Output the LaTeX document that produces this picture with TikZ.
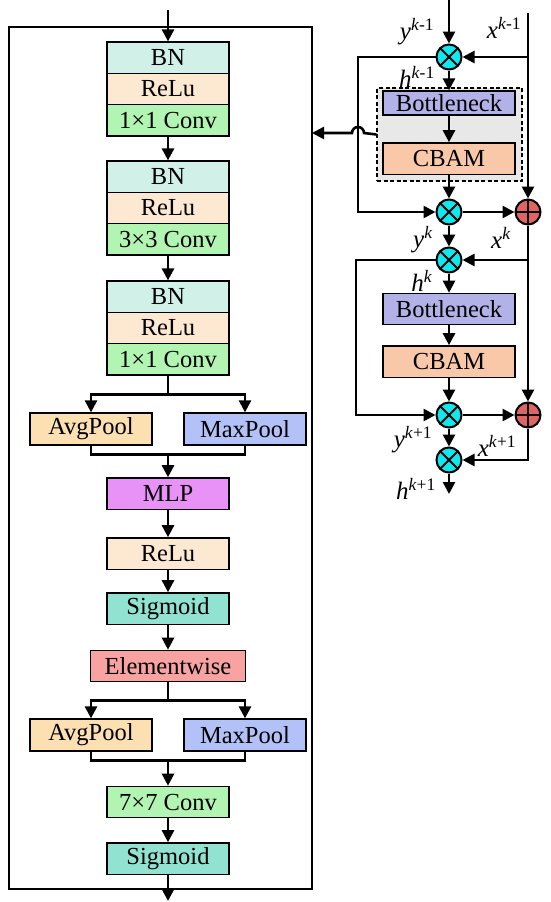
\documentclass[tikz,border=0pt]{standalone}
\usepackage{fontspec}
\setmainfont{Liberation Serif}
\usepackage{tikz}
\usetikzlibrary{positioning, arrows.meta, calc}

\definecolor{cBN}{HTML}{D0F0E8}
\definecolor{cRelu}{HTML}{FDE9D2}
\definecolor{cConv}{HTML}{B2F5B2}
\definecolor{cAvg}{HTML}{FCE0B2}
\definecolor{cMax}{HTML}{B2C2F8}
\definecolor{cMLP}{HTML}{E892F8}
\definecolor{cSig}{HTML}{92E2D2}
\definecolor{cElem}{HTML}{F8A2A2}
\definecolor{cBot}{HTML}{B2B2E8}
\definecolor{cCBAM}{HTML}{F8C8A8}
\definecolor{cMul}{HTML}{10E8F0}
\definecolor{cAdd}{HTML}{E06464}

\newcommand{\vlab}[2]{\textit{#1}\textsuperscript{\textit{k}#2}}

\tikzset{
    blk/.style={draw, line width=1.3pt, minimum width=122pt, minimum height=31.3pt,
        inner sep=0pt, font=\fontsize{24.5}{28}\selectfont},
    mulc/.style={circle, draw, fill=cMul, minimum size=25pt, inner sep=0pt, line width=2pt,
        path picture={\draw[line width=2pt]
            (path picture bounding box.north west) -- (path picture bounding box.south east)
            (path picture bounding box.north east) -- (path picture bounding box.south west);}},
    addc/.style={circle, draw, fill=cAdd, minimum size=25pt, inner sep=0pt, line width=2pt,
        path picture={\draw[line width=2pt]
            (path picture bounding box.north) -- (path picture bounding box.south)
            (path picture bounding box.west) -- (path picture bounding box.east);}},
    lab/.style={font=\fontsize{25}{28}\selectfont, inner sep=0pt}
}

\begin{document}
\begin{tikzpicture}[x=1pt, y=-1pt, line width=2.6pt, >={Triangle[length=12pt, width=12pt]}]
    \useasboundingbox (0,0) rectangle (550,902);

    % Outer frame
    \draw (9,27) rectangle (312,889);

    % Left column
    \node [blk, fill=cBN]   (bn1)   at (168,57.7)  {BN};
    \node [blk, fill=cRelu] (relu1) at (168,89)    {ReLu};
    \node [blk, fill=cConv] (conv1) at (168,120.3) {1×1 Conv};
    \node [blk, fill=cBN]   (bn2)   at (168,176.7) {BN};
    \node [blk, fill=cRelu] (relu2) at (168,208)   {ReLu};
    \node [blk, fill=cConv] (conv2) at (168,239.3) {3×3 Conv};
    \node [blk, fill=cBN]   (bn3)   at (168,296.7) {BN};
    \node [blk, fill=cRelu] (relu3) at (168,328)   {ReLu};
    \node [blk, fill=cConv] (conv3) at (168,359.3) {1×1 Conv};
    \node [blk, fill=cAvg, minimum height=32pt]  (avg1) at (91,429)  {AvgPool};
    \node [blk, fill=cMax, minimum height=32pt]  (max1) at (245,429) {MaxPool};
    \node [blk, fill=cMLP]  (mlp)   at (168,493.5) {MLP};
    \node [blk, fill=cRelu] (relu4) at (168,553.5) {ReLu};
    \node [blk, fill=cSig]  (sig1)  at (168,608.5) {Sigmoid};
    \node [blk, fill=cElem, minimum width=155pt] (elem) at (168,666) {Elementwise};
    \node [blk, fill=cAvg, minimum height=32pt]  (avg2) at (91,735)  {AvgPool};
    \node [blk, fill=cMax, minimum height=32pt]  (max2) at (245,735) {MaxPool};
    \node [blk, fill=cConv] (conv4) at (168,802)   {7×7 Conv};
    \node [blk, fill=cSig]  (sig2)  at (168,858.5) {Sigmoid};

    \coordinate (in)  at (168,10);
    \coordinate (out) at (168,901);
    \coordinate (j1)  at (168,454);
    \coordinate (j2)  at (168,760);

    % Left column arrows
    \draw [->] (in) -- (bn1);
    \draw [->] (conv1) -- (bn2);
    \draw [->] (conv2) -- (bn3);
    \draw [->] (conv3.south) -- ++(0,19) -| (avg1.north);
    \draw [->] (conv3.south) -- ++(0,19) -| (max1.north);
    \draw (avg1.south) -- ++(0,9) -| (max1.south);
    \draw [->] (j1) -- (mlp);
    \draw [->] (mlp) -- (relu4);
    \draw [->] (relu4) -- (sig1);
    \draw [->] (sig1) -- (elem);
    \draw [->] (elem.south) -- ++(0,18) -| (avg2.north);
    \draw [->] (elem.south) -- ++(0,18) -| (max2.north);
    \draw (avg2.south) -- ++(0,9) -| (max2.south);
    \draw [->] (j2) -- (conv4);
    \draw [->] (conv4) -- (sig2);
    \draw [->] (sig2) -- (out);

    % Right column, stage k
    \node [draw, dash pattern=on 4pt off 2.5pt, line width=1.2pt, fill=gray!18,
        minimum width=145pt, minimum height=93pt] (grp1) at (449.5,134.5) {};
    \node [blk, fill=cBot, minimum width=132pt, minimum height=24pt] (bot1)  at (449,103)   {Bottleneck};
    \node [blk, fill=cCBAM, minimum width=132pt]                    (cbam1) at (449,158.5) {CBAM};
    \node [blk, fill=cBot, minimum width=132pt]                     (bot2)  at (449,309)   {Bottleneck};
    \node [blk, fill=cCBAM, minimum width=132pt]                    (cbam2) at (449,361.5) {CBAM};

    \node [mulc] (m1) at (449,57)  {};
    \node [mulc] (m2) at (449,212) {};
    \node [mulc] (m3) at (449,260) {};
    \node [mulc] (m4) at (449,415) {};
    \node [mulc] (m5) at (449,460) {};
    \node [addc] (p1) at (528,212) {};
    \node [addc] (p2) at (528,415) {};

    \coordinate (yin)  at (449,0);
    \coordinate (xin)  at (528,13);
    \coordinate (hout) at (449,494);
    \coordinate (fb)   at (312,133);

    % Stage k-1 to k
    \draw [->] (yin) -- (m1);
    \draw [->] (xin) -- (p1);
    \draw [->] (xin |- m1) -- (m1);
    \draw [->] (m1) -- (bot1);
    \draw [->] (bot1) -- (cbam1);
    \draw [->] (cbam1) -- (m2);
    \draw [->] (m1.west) -- (358,57) -- (358,212) -- (m2.west);
    \draw [->] (m2) -- (p1);
    \draw [->] (grp1.west) -- (364,133) arc [start angle=0, end angle=-180, radius=6] -- (fb);

    % Stage k to k+1
    \draw [->] (m2) -- (m3);
    \draw [->] (p1) -- (p2);
    \draw [->] (p1 |- m3) -- (m3);
    \draw [->] (m3) -- (bot2);
    \draw [->] (bot2) -- (cbam2);
    \draw [->] (cbam2) -- (m4);
    \draw [->] (m3.west) -- (356,260) -- (356,415) -- (m4.west);
    \draw [->] (m4) -- (p2);
    \draw [->] (m4) -- (m5);
    \draw [->] (p2.south) |- (m5.east);
    \draw [->] (m5) -- (hout);

    % Labels
    \node [lab] (ly1) at (417,32)  {\vlab{y}{-1}};
    \node [lab] (lx1) at (504,28)  {\vlab{x}{-1}};
    \node [lab] (lh1) at (417,77)  {\vlab{h}{-1}};
    \node [lab] (ly2) at (423,240) {\vlab{y}{}};
    \node [lab] (lx2) at (501,238) {\vlab{x}{}};
    \node [lab] (lh2) at (422,281) {\vlab{h}{}};
    \node [lab] (ly3) at (413,440) {\vlab{y}{+1}};
    \node [lab] (lx3) at (497,446) {\vlab{x}{+1}};
    \node [lab] (lh3) at (416,489) {\vlab{h}{+1}};
\end{tikzpicture}
\end{document}
